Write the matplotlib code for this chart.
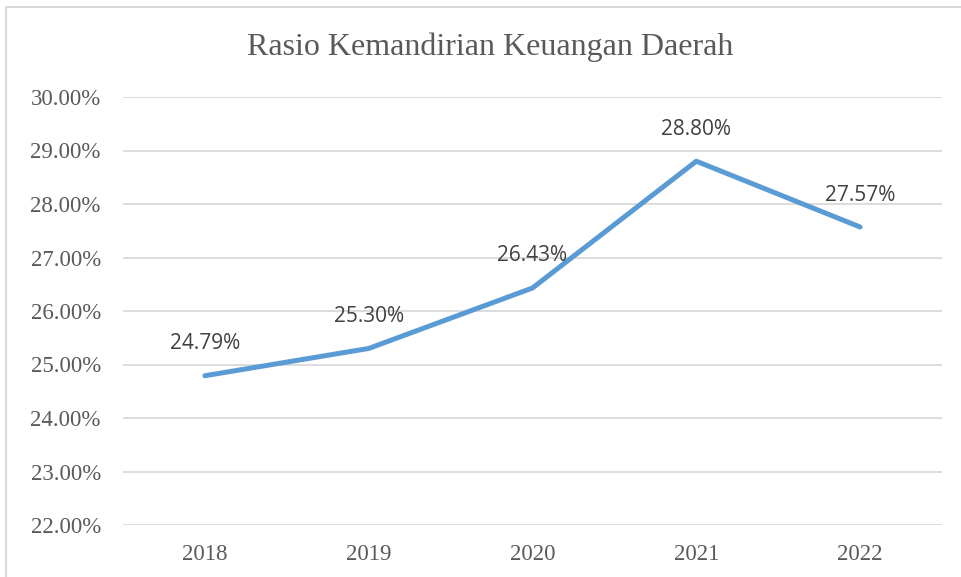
import matplotlib
matplotlib.use("Agg")
import matplotlib.pyplot as plt
from matplotlib.patches import Rectangle
from matplotlib.ticker import FuncFormatter

years = ["2018", "2019", "2020", "2021", "2022"]
ratio = [24.79, 25.30, 26.43, 28.80, 27.57]
labels = ["24.79%", "25.30%", "26.43%", "28.80%", "27.57%"]
yticks = [22, 23, 24, 25, 26, 27, 28, 29, 30]

fig = plt.figure(figsize=(9.61, 5.77), dpi=100)
fig.patches.append(Rectangle((6/961, -0.05), 1.2, 1 - 7/577 + 0.05, transform=fig.transFigure,
                             fill=False, edgecolor="#D9D9D9", linewidth=1.5))
ax = fig.add_axes([123/961, 1 - 525/577, (942 - 123)/961, (525 - 97)/577])

x = list(range(len(years)))
ax.plot(x, ratio, color="#5B9BD5", linewidth=3.6, solid_capstyle="round", solid_joinstyle="round", zorder=3)
for xi, v, lab in zip(x, ratio, labels):
    ax.annotate(lab, (xi, v), xytext=(0, 32), textcoords="offset pixels", ha="center", va="center",
                fontsize=15, color="#404040", family=["Open Sans", "DejaVu Sans"])

ax.set_xlim(-0.5, len(years) - 0.5)
ax.set_ylim(22, 30)
ax.set_yticks(yticks)
ax.yaxis.set_major_formatter(FuncFormatter(lambda v, p: f"{v:.2f}%"))
ax.set_xticks(x)
ax.set_xticklabels(years)
ax.grid(axis="y", color="#D9D9D9", linewidth=1.3)
ax.set_axisbelow(True)
for s in ax.spines.values():
    s.set_visible(False)
ax.tick_params(axis="both", length=0, labelsize=16.5, labelcolor="#595959", pad=16)
ax.tick_params(axis="x", pad=14)
for t in ax.get_xticklabels() + ax.get_yticklabels():
    t.set_family("Liberation Serif")

fig.text(490/961, 1 - 47/577, "Rasio Kemandirian Keuangan Daerah", ha="center", va="center",
         fontsize=23, color="#595959", family="Liberation Serif")

fig.savefig("out.png", dpi=100)
